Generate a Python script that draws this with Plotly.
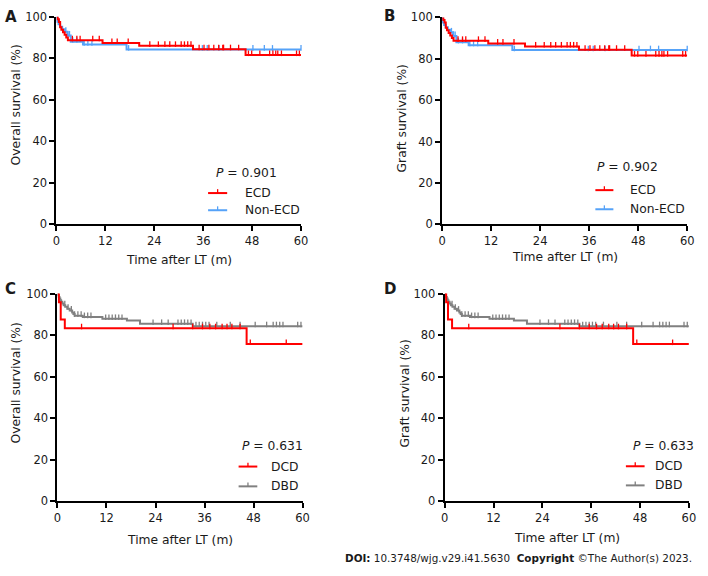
import plotly.graph_objects as go

W, H = 708, 576

# ---------------- data ----------------
# Panel A / B : ECD vs Non-ECD
ecd_times = [0, 0.3, 0.6, 0.9, 1.2, 1.6, 2.0, 2.4, 2.8, 11.3, 20.3, 33.5, 46.4]
ecd_surv = [100, 98.8, 97.5, 95.0, 93.8, 92.5, 91.3, 90.0, 88.7, 87.4, 86.0, 84.4, 81.6]
ecd_cens = [3.9, 5.0, 5.8, 8.9, 10.5, 13.6, 14.9, 17.6, 22.9, 25.0, 26.6, 27.8, 29.2,
            30.6, 31.4, 32.2, 33.0, 35.0, 36.2, 37.4, 38.6, 39.8, 40.8, 41.0, 42.7,
            44.7, 47.1, 47.9, 49.9, 52.3, 53.1, 53.8, 54.3, 55.2, 58.9, 59.6]
nonecd_times = [0, 0.15, 0.5, 0.9, 1.4, 2.0, 2.7, 3.5, 6.5, 17.2]
nonecd_surv = [100, 97.6, 96.4, 95.2, 94.0, 92.8, 91.0, 88.0, 86.6, 84.2]
nonecd_cens = [2.3, 2.8, 3.2, 4.0, 5.0, 6.8, 7.7, 8.7, 17.7, 35.8, 37.0, 39.9,
               48.2, 51.0, 53.0, 60.0]

# Panel C / D : DCD vs DBD
dcd_times = [0, 0.35, 0.8, 1.8, 46.3]
dcd_surv = [100, 95.8, 87.5, 83.3, 75.7]
dcd_cens = [5.9, 28.3, 33.1, 35.5, 37.3, 38.7, 40.3, 41.5, 42.7, 44.7, 47.2, 56.0]
dbd_times = [0, 0.15, 0.3, 0.5, 0.7, 0.9, 1.2, 1.5, 1.9, 2.4, 3.0, 3.6, 3.9, 4.2,
             6.2, 11.0, 17.0, 20.2, 33.1]
dbd_surv = [100, 99.2, 98.4, 97.6, 96.8, 96.0, 95.2, 94.4, 93.6, 92.7, 91.8, 90.9,
            90.1, 89.3, 88.7, 87.8, 87.0, 85.4, 84.3]
dbd_cens = [1.8, 2.6, 3.4, 4.2, 5.0, 5.8, 6.6, 7.4, 8.2, 11.8, 12.6, 13.4, 14.2, 15.0,
            15.8, 23.4, 25.5, 27.1, 29.5, 30.3, 31.1, 31.9, 32.7, 33.9, 34.7, 35.5,
            36.3, 37.1, 39.0, 42.3, 44.7, 48.4, 51.2, 52.8, 53.6, 54.4, 55.2, 58.8, 59.6]

x_ticks = [0, 12, 24, 36, 48, 60]
y_ticks = [0, 20, 40, 60, 80, 100]
x_max = 60

RED, BLUE, GREY = "#FF0000", "#55A2F8", "#808080"
panels = [
    dict(label="A", ytitle="Overall survival (%)", p="0.901",
         series=[("ECD", ecd_times, ecd_surv, ecd_cens, RED),
                 ("Non-ECD", nonecd_times, nonecd_surv, nonecd_cens, BLUE)]),
    dict(label="B", ytitle="Graft survival (%)", p="0.902",
         series=[("ECD", ecd_times, ecd_surv, ecd_cens, RED),
                 ("Non-ECD", nonecd_times, nonecd_surv, nonecd_cens, BLUE)]),
    dict(label="C", ytitle="Overall survival (%)", p="0.631",
         series=[("DCD", dcd_times, dcd_surv, dcd_cens, RED),
                 ("DBD", dbd_times, dbd_surv, dbd_cens, GREY)]),
    dict(label="D", ytitle="Graft survival (%)", p="0.633",
         series=[("DCD", dcd_times, dcd_surv, dcd_cens, RED),
                 ("DBD", dbd_times, dbd_surv, dbd_cens, GREY)]),
]

# ---------------- layout geometry (page pixels) ----------------
geo = [
    dict(x0=53.3, x1=301.7, y0=10.0, y1=222.7, lab=(7, 10), xt=(177.5, 259), yt=(12, 100),
         ptxt=(213, 170), leg=(207.3, 226.7, 190.7, 208.3, 242.7)),
    dict(x0=445.0, x1=694.0, y0=10.7, y1=222.7, lab=(392, 9), xt=(569.5, 256.7), yt=(404, 114.5),
         ptxt=(600.7, 164.3), leg=(600.7, 619.0, 187.7, 207.3, 634.0)),
    dict(x0=54.3, x1=303.3, y0=293.7, y1=506.3, lab=(7, 289), xt=(178.8, 546.3), yt=(12, 385),
         ptxt=(239.3, 449.7), leg=(238.3, 257.3, 471.0, 491.3, 269.3)),
    dict(x0=447.7, x1=695.7, y0=293.7, y1=506.3, lab=(392, 289), xt=(571.7, 544.7), yt=(407, 396.5),
         ptxt=(636.7, 450.3), leg=(631.7, 650.7, 470.7, 490.3, 659.0)),
]

FONT = "DejaVu Sans"
TXT = "#1a1a1a"


def px(x):
    return x / W


def py(y):
    return 1 - y / H


def surv_at(t, times, surv):
    val = surv[0]
    for ti, si in zip(times, surv):
        if ti <= t:
            val = si
    return val


fig = go.Figure()
annotations = []
shapes = []

for i, (pan, g) in enumerate(zip(panels, geo)):
    ax = "" if i == 0 else str(i + 1)
    xa, ya = "x" + ax, "y" + ax
    for name, times, surv, cens, col in pan["series"][::-1]:
        fig.add_trace(go.Scatter(
            x=times + [x_max], y=surv + [surv[-1]], mode="lines",
            line=dict(color=col, width=2, shape="hv"), xaxis=xa, yaxis=ya,
            cliponaxis=False, showlegend=False, hoverinfo="skip"))
        fig.add_trace(go.Scatter(
            x=cens, y=[surv_at(t, times, surv) + 0.8 for t in cens], mode="markers",
            marker=dict(symbol="line-ns", size=4, line=dict(color=col, width=1.3)),
            xaxis=xa, yaxis=ya, cliponaxis=False, showlegend=False, hoverinfo="skip"))
    axis_common = dict(showline=True, linecolor="black", linewidth=2, ticks="outside",
                       ticklen=5, tickwidth=2, tickcolor="black", showgrid=False,
                       zeroline=False, tickfont=dict(family=FONT, size=11.5, color=TXT))
    fig.layout["xaxis" + ax] = dict(domain=[px(g["x0"]), px(g["x1"])], range=[0, x_max],
                                    tickvals=x_ticks, anchor=ya, **axis_common)
    fig.layout["yaxis" + ax] = dict(domain=[py(g["y1"]), py(g["y0"])], range=[0, 100],
                                    tickvals=y_ticks, anchor=xa, **axis_common)
    annotations.append(dict(text="<b>%s</b>" % pan["label"], x=px(g["lab"][0]), y=py(g["lab"][1]),
                            xref="paper", yref="paper", xanchor="center", yanchor="middle",
                            showarrow=False, font=dict(family=FONT, size=15, color=TXT)))
    annotations.append(dict(text="Time after LT (m)", x=px(g["xt"][0]), y=py(g["xt"][1]),
                            xref="paper", yref="paper", xanchor="center", yanchor="middle",
                            showarrow=False, font=dict(family=FONT, size=12.3, color=TXT)))
    annotations.append(dict(text=pan["ytitle"], x=px(g["yt"][0]), y=py(g["yt"][1]),
                            xref="paper", yref="paper", xanchor="center", yanchor="middle",
                            textangle=-90, showarrow=False,
                            font=dict(family=FONT, size=12.3, color=TXT)))
    annotations.append(dict(text="<i>P</i> = %s" % pan["p"], x=px(g["ptxt"][0]), y=py(g["ptxt"][1]),
                            xref="paper", yref="paper", xanchor="left", yanchor="middle",
                            showarrow=False, font=dict(family=FONT, size=12.3, color=TXT)))
    lx0, lx1, ly1, ly2, ltx = g["leg"]
    for (name, _, _, _, col), ly in zip(pan["series"], [ly1, ly2]):
        shapes.append(dict(type="line", xref="paper", yref="paper", x0=px(lx0), x1=px(lx1),
                           y0=py(ly), y1=py(ly), line=dict(color=col, width=2)))
        xm = (lx0 + lx1) / 2
        shapes.append(dict(type="line", xref="paper", yref="paper", x0=px(xm), x1=px(xm),
                           y0=py(ly), y1=py(ly - 4), line=dict(color=col, width=1.3)))
        annotations.append(dict(text=name, x=px(ltx), y=py(ly), xref="paper", yref="paper",
                                xanchor="left", yanchor="middle", showarrow=False,
                                font=dict(family=FONT, size=12.3, color=TXT)))

annotations.append(dict(
    text="<b>DOI:</b> 10.3748/wjg.v29.i41.5630\u00a0\u00a0<b>Copyright</b> \u00a9The Author(s) 2023.",
    x=px(701), y=py(565), xref="paper", yref="paper", xanchor="right", yanchor="middle",
    showarrow=False, font=dict(family=FONT, size=10.4, color=TXT)))

fig.update_layout(width=W, height=H, margin=dict(l=0, r=0, t=0, b=0),
                  paper_bgcolor="white", plot_bgcolor="white",
                  annotations=annotations, shapes=shapes, showlegend=False)

# remove the browser's default 8px body margin so the figure sits at the page origin
fig.write_html("out.html",
               config={"displayModeBar": False, "staticPlot": True},
               post_script="document.body.style.margin='0';document.body.style.overflow='hidden';")
